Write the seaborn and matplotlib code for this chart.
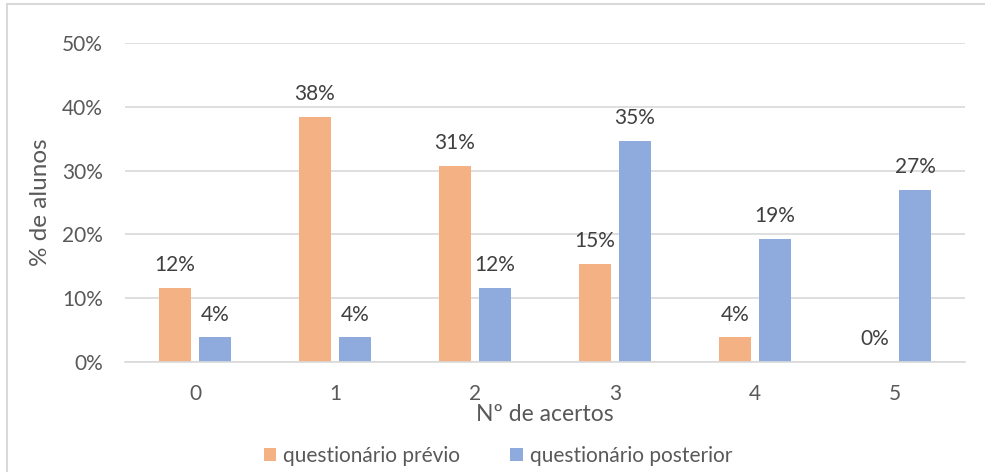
import matplotlib
matplotlib.use("Agg")
import matplotlib.pyplot as plt
import matplotlib.ticker as mticker
from matplotlib.lines import Line2D
from matplotlib.patches import Patch
import pandas as pd
import seaborn as sns

# Number of correct answers per student
acertos = ["0", "1", "2", "3", "4", "5"]
# Share of students (%) in each questionnaire
previo = [11.54, 38.46, 30.77, 15.38, 3.85, 0.0]
posterior = [3.85, 3.85, 11.54, 34.62, 19.23, 26.92]
series_names = ["questionário prévio", "questionário posterior"]
yticks = [0, 10, 20, 30, 40, 50]

ORANGE = "#F4B183"
BLUE = "#8FAADC"
TEXT = "#595959"
GRID = "#D9D9D9"

sns.set_theme(style="white")
plt.rcParams["font.family"] = ["Lato", "DejaVu Sans"]

df = pd.DataFrame({
    "acertos": acertos * 2,
    "pct": previo + posterior,
    "serie": [series_names[0]] * len(acertos) + [series_names[1]] * len(acertos),
})

fig = plt.figure(figsize=(9.85, 4.72), dpi=100)
ax = fig.add_axes([125 / 985, 1 - 362 / 472, 840 / 985, 319 / 472])

sns.barplot(
    data=df, x="acertos", y="pct", hue="serie", order=acertos,
    hue_order=series_names, palette=[ORANGE, BLUE],
    width=0.571, gap=0.2, linewidth=0, saturation=1, legend=False, ax=ax,
    errorbar=None,
)

ax.set_ylim(0, 50)
ax.set_xlim(-0.5, len(acertos) - 0.5)
ax.set_yticks(yticks)
ax.yaxis.set_major_formatter(mticker.FuncFormatter(lambda v, _: f"{v:.0f}%"))
ax.grid(axis="y", color=GRID, linewidth=1.2)
ax.set_axisbelow(True)
for side in ["top", "right", "left"]:
    ax.spines[side].set_visible(False)
ax.spines["bottom"].set_color(GRID)
ax.spines["bottom"].set_linewidth(1.2)
ax.tick_params(axis="both", length=0, labelsize=15, labelcolor=TEXT)
ax.tick_params(axis="y", pad=16)
ax.tick_params(axis="x", pad=16)

ax.set_ylabel("% de alunos", fontsize=17.5, color=TEXT, labelpad=8)
ax.set_xlabel("Nº de acertos", fontsize=16.5, color=TEXT, labelpad=0)

# Value labels above each bar
for container, values in zip(ax.containers, [previo, posterior]):
    for patch, v in zip(container.patches, values):
        ax.annotate(
            f"{v:.0f}%", (patch.get_x() + patch.get_width() / 2, patch.get_height()),
            xytext=(0, 16.5), textcoords="offset points",
            ha="center", va="center", fontsize=15, color="#404040",
        )

handles = [Patch(facecolor=ORANGE, edgecolor="none"), Patch(facecolor=BLUE, edgecolor="none")]
fig.legend(
    handles, series_names, loc="center", bbox_to_anchor=(498 / 985, 1 - 456 / 472),
    ncol=2, frameon=False, fontsize=15, labelcolor=TEXT,
    handlelength=0.6, handleheight=0.6, handletextpad=0.35, columnspacing=2.4,
)

# Frame of the chart area
fig.add_artist(Line2D([7 / 985, 7 / 985], [0, 1 - 4 / 472], transform=fig.transFigure,
                      color=GRID, linewidth=1.5))
fig.add_artist(Line2D([7 / 985, 1], [1 - 4 / 472, 1 - 4 / 472], transform=fig.transFigure,
                      color=GRID, linewidth=1.5))

fig.savefig("out.png", dpi=100)
